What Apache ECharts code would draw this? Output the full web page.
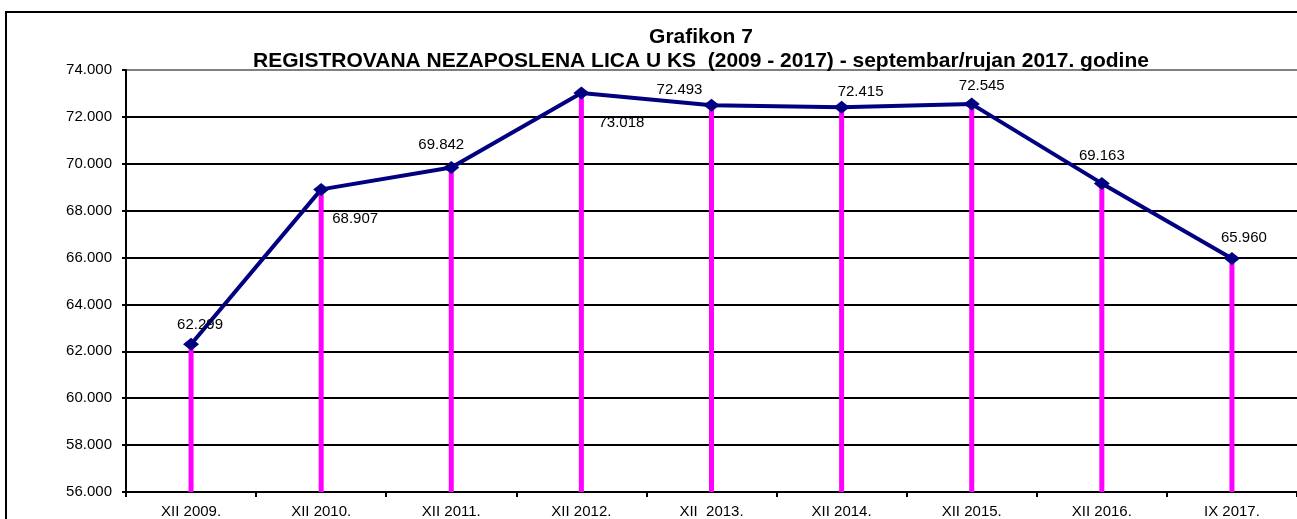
<!DOCTYPE html>
<html>
<head>
<meta charset="utf-8">
<title>Grafikon 7</title>
<script src="https://cdn.jsdelivr.net/npm/echarts@6/dist/echarts.min.js"></script>
<style>
    html, body { margin: 0; padding: 0; background: #fff; }
    #chart { width: 1297px; height: 519px; }
</style>
</head>
<body>
<div id="chart"></div>
<script>
// podaci sa grafikona
const categories = ['XII 2009.', 'XII 2010.', 'XII 2011.', 'XII 2012.', 'XII  2013.', 'XII 2014.', 'XII 2015.', 'XII 2016.', 'IX 2017.'];
const unemployed = [62299, 68907, 69842, 73018, 72493, 72415, 72545, 69163, 65960];
const yTicks = [56000, 58000, 60000, 62000, 64000, 66000, 68000, 70000, 72000, 74000];

// pomak labela od tacke (x, y)
const labelOffsets = [[9, -19], [34, 29], [-10, -23], [40, 30], [-32, -15], [19, -15], [10, -18], [0, -28], [12, -21]];

// broj sa tackom za hiljade
function fmt(v) {
    return String(v).replace(/\B(?=(\d{3})+(?!\d))/g, '.');
}

let myChart = echarts.init(document.getElementById('chart'));

// gornja linija mreze je siva, ostale crne
let gridColors = yTicks.map((t, i) => i == yTicks.length - 1 ? '#808080' : '#000');

let lineData = unemployed.map((v, i) => ({
    value: v,
    label: { offset: labelOffsets[i] }
}));

let option = {
    backgroundColor: '#fff',
    animation: false,
    title: {
        text: 'Grafikon 7\nREGISTROVANA NEZAPOSLENA LICA U KS  (2009 - 2017) - septembar/rujan 2017. godine',
        left: 696,
        top: 20,
        textAlign: 'center',
        textStyle: {
            fontFamily: 'Liberation Sans',
            fontSize: 21,
            fontWeight: 'bold',
            color: '#000',
            lineHeight: 24
        }
    },
    graphic: [{
        type: 'rect',
        shape: { x: 6, y: 12, width: 1400, height: 600 },
        style: { fill: 'none', stroke: '#000', lineWidth: 2 },
        z: 100
    }],
    grid: {
        left: 126,
        top: 70,
        width: 1173,
        height: 422
    },
    xAxis: {
        type: 'category',
        data: categories,
        boundaryGap: true,
        axisLine: { lineStyle: { color: '#000', width: 2 } },
        axisTick: { show: true, length: 5, lineStyle: { color: '#000', width: 2 } },
        axisLabel: {
            color: '#000',
            fontFamily: 'Liberation Sans',
            fontSize: 15,
            margin: 12,
            interval: 0
        }
    },
    yAxis: {
        type: 'value',
        min: 56000,
        max: 74000,
        interval: 2000,
        axisLine: { show: true, lineStyle: { color: '#000', width: 2 } },
        axisTick: { show: true, length: 4, lineStyle: { color: '#000', width: 2 } },
        axisLabel: {
            color: '#000',
            fontFamily: 'Liberation Sans',
            fontSize: 15,
            margin: 14,
            formatter: fmt
        },
        splitLine: { show: true, lineStyle: { color: gridColors, width: 2 } }
    },
    series: [{
        // ruzicaste vertikalne linije
        type: 'bar',
        data: unemployed,
        barWidth: 5,
        itemStyle: { color: '#ff00ff' },
        z: 2
    }, {
        type: 'line',
        data: lineData,
        symbol: 'diamond',
        symbolSize: [16, 13],
        lineStyle: { color: '#000080', width: 4 },
        itemStyle: { color: '#000080' },
        label: {
            show: true,
            position: 'inside',
            color: '#000',
            fontFamily: 'Liberation Sans',
            fontSize: 15,
            formatter: p => fmt(p.value)
        },
        z: 3
    }]
};
myChart.setOption(option);
</script>
</body>
</html>
